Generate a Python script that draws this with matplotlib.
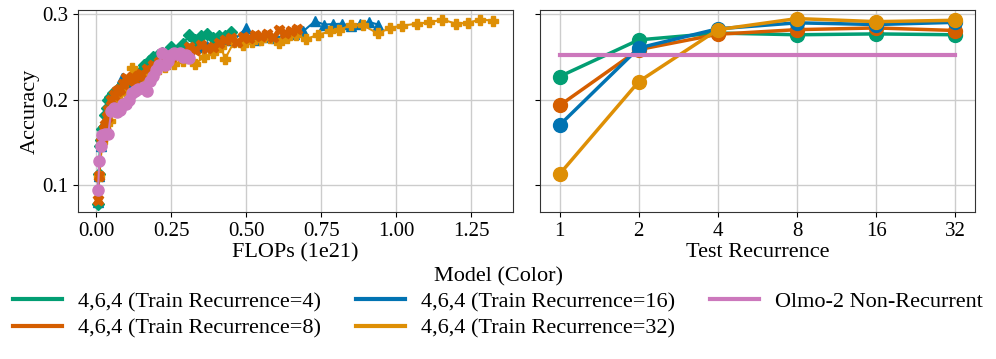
import matplotlib
matplotlib.use("Agg")
import matplotlib.pyplot as plt

plt.rcParams['font.family'] = ['Liberation Serif', 'DejaVu Serif']
plt.rcParams['font.size'] = 16
plt.rcParams['xtick.labelsize'] = 15
plt.rcParams['ytick.labelsize'] = 15

# colours (seaborn colorblind)
c4, c8, c16, c32, c_olmo = '#029e73', '#d55e00', '#0173b2', '#de8f05', '#cc78bc'

labels = ['4,6,4 (Train Recurrence=4)', '4,6,4 (Train Recurrence=8)',
          '4,6,4 (Train Recurrence=16)', '4,6,4 (Train Recurrence=32)',
          'Olmo-2 Non-Recurrent']

# left panel: accuracy vs FLOPs (1e21)
flops_r4 = [0.005, 0.008, 0.012, 0.016, 0.02, 0.025, 0.03, 0.035, 0.04, 0.047, 0.055, 0.065, 0.075,
            0.085, 0.1, 0.115, 0.13, 0.145, 0.16, 0.175, 0.19, 0.205, 0.22, 0.25, 0.27, 0.29, 0.31,
            0.33, 0.35, 0.37, 0.39, 0.41, 0.43, 0.45]
acc_r4 = [0.077, 0.112, 0.145, 0.152, 0.165, 0.168, 0.182, 0.19, 0.2, 0.203, 0.208, 0.21, 0.213,
          0.217, 0.22, 0.225, 0.228, 0.232, 0.24, 0.245, 0.25, 0.252, 0.255, 0.262, 0.258, 0.265, 0.276,
          0.27, 0.275, 0.277, 0.272, 0.274, 0.275, 0.279]

flops_r16 = [0.005, 0.01, 0.015, 0.02, 0.03, 0.04, 0.05, 0.06, 0.075, 0.085, 0.1, 0.12, 0.14, 0.16,
             0.18, 0.2, 0.22, 0.25, 0.28, 0.31, 0.34, 0.37, 0.4, 0.43, 0.46, 0.5, 0.53, 0.56, 0.6,
             0.63, 0.66, 0.69, 0.73, 0.76, 0.79, 0.82, 0.85, 0.88, 0.91, 0.94]
acc_r16 = [0.08, 0.11, 0.145, 0.16, 0.175, 0.19, 0.2, 0.205, 0.212, 0.225, 0.218, 0.222, 0.228, 0.236,
           0.242, 0.246, 0.25, 0.252, 0.255, 0.258, 0.262, 0.263, 0.266, 0.27, 0.27, 0.284, 0.27, 0.273,
           0.272, 0.276, 0.277, 0.28, 0.292, 0.288, 0.2885, 0.289, 0.286, 0.289, 0.291, 0.288]

flops_r8 = [0.005, 0.01, 0.015, 0.02, 0.025, 0.03, 0.035, 0.04, 0.05, 0.06, 0.07, 0.08, 0.09, 0.1,
            0.11, 0.12, 0.13, 0.14, 0.15, 0.17, 0.19, 0.21, 0.23, 0.25, 0.27, 0.29, 0.31, 0.33, 0.35,
            0.37, 0.39, 0.41, 0.43, 0.45, 0.47, 0.49, 0.51, 0.53, 0.55, 0.57, 0.59, 0.61, 0.63, 0.65, 0.67]
acc_r8 = [0.082, 0.11, 0.15, 0.155, 0.165, 0.17, 0.18, 0.188, 0.2, 0.205, 0.21, 0.212, 0.218, 0.225,
          0.222, 0.226, 0.222, 0.228, 0.23, 0.236, 0.24, 0.244, 0.248, 0.25, 0.254, 0.255, 0.262, 0.258,
          0.264, 0.26, 0.262, 0.266, 0.27, 0.272, 0.268, 0.273, 0.272, 0.276, 0.274, 0.277, 0.273, 0.282,
          0.278, 0.28, 0.283]

flops_r32 = [0.01, 0.02, 0.03, 0.045, 0.06, 0.08, 0.1, 0.12, 0.14, 0.17, 0.2, 0.23, 0.26, 0.29, 0.33,
             0.36, 0.39, 0.415, 0.43, 0.46, 0.49, 0.52, 0.55, 0.58, 0.61, 0.635, 0.665, 0.70, 0.74, 0.78,
             0.81, 0.85, 0.89, 0.94, 0.98, 1.02, 1.07, 1.11, 1.155, 1.2, 1.24, 1.28, 1.325]
acc_r32 = [0.11, 0.15, 0.165, 0.175, 0.19, 0.2, 0.21, 0.237, 0.215, 0.225, 0.232, 0.238, 0.242, 0.245,
           0.242, 0.25, 0.255, 0.262, 0.248, 0.268, 0.264, 0.268, 0.27, 0.272, 0.266, 0.272, 0.276, 0.271,
           0.276, 0.28, 0.282, 0.287, 0.287, 0.2775, 0.284, 0.2867, 0.289, 0.2906, 0.2938, 0.289, 0.290,
           0.2938, 0.2926]

flops_olmo = [0.006, 0.01, 0.015, 0.02, 0.03, 0.04, 0.05, 0.06, 0.07, 0.08, 0.09, 0.1, 0.11, 0.12,
              0.13, 0.14, 0.16, 0.17, 0.18, 0.19, 0.2, 0.21, 0.22, 0.23, 0.24, 0.25, 0.26, 0.27, 0.28,
              0.29, 0.3, 0.31]
acc_olmo = [0.094, 0.128, 0.145, 0.158, 0.16, 0.16, 0.186, 0.19, 0.185, 0.188, 0.195, 0.195, 0.2, 0.208,
            0.21, 0.212, 0.215, 0.21, 0.222, 0.228, 0.235, 0.24, 0.255, 0.24, 0.245, 0.252, 0.255, 0.253,
            0.255, 0.25, 0.252, 0.249]

# right panel: accuracy vs test recurrence
test_rec = [1, 2, 4, 8, 16, 32]
test_acc_r4 = [0.227, 0.270, 0.278, 0.276, 0.277, 0.276]
test_acc_r8 = [0.193, 0.2586, 0.2766, 0.282, 0.284, 0.281]
test_acc_r16 = [0.170, 0.2605, 0.283, 0.290, 0.288, 0.2906]
test_acc_r32 = [0.1125, 0.221, 0.282, 0.295, 0.2914, 0.293]
olmo_baseline = 0.252

fig = plt.figure(figsize=(9.96, 3.59), dpi=100)
ax1 = fig.add_axes([0.0783, 0.4095, 0.437, 0.5625])
ax2 = fig.add_axes([0.542, 0.4095, 0.437, 0.5625], sharey=ax1)

ax1.plot(flops_r16, acc_r16, color=c16, marker='^', ms=7, lw=1.5)
ax1.plot(flops_r4, acc_r4, color=c4, marker='D', ms=6.5, lw=1.5)
ax1.plot(flops_r32, acc_r32, color=c32, marker='P', ms=7.5, lw=1.5)
ax1.plot(flops_r8, acc_r8, color=c8, marker='X', ms=7.5, lw=1.5)
ax1.plot(flops_olmo, acc_olmo, color=c_olmo, marker='o', ms=8, lw=1.5)
ax1.set_xlabel('FLOPs (1e21)', labelpad=2)
ax1.set_ylabel('Accuracy', labelpad=2)
ax1.set_yticks([0.1, 0.2, 0.3])
ax1.set_ylim(0.068, 0.305)
ax1.grid(True, color='#cccccc', lw=1)

lines = []
for vals, col in [(test_acc_r4, c4), (test_acc_r8, c8), (test_acc_r16, c16), (test_acc_r32, c32)]:
    ln, = ax2.plot(test_rec, vals, color=col, marker='o', ms=10, lw=2.5)
    lines.append(ln)
ln, = ax2.plot([test_rec[0], test_rec[-1]], [olmo_baseline, olmo_baseline], color=c_olmo, lw=3)
lines.append(ln)
ax2.set_xscale('log', base=2)
ax2.set_xticks(test_rec)
ax2.set_xticklabels([str(t) for t in test_rec])
ax2.tick_params(axis='y', labelleft=False)
ax2.set_xlabel('Test Recurrence', labelpad=2)
ax2.grid(True, color='#cccccc', lw=1)

for ax in (ax1, ax2):
    for s in ax.spines.values():
        s.set_color('#333333')

handles = [plt.Line2D([], [], color=l.get_color(), lw=3) for l in lines]
fig.legend(handles, labels, title='Model (Color)', loc='upper center', bbox_to_anchor=(0.5, 0.3),
           ncol=3, frameon=False, handlelength=2.2, columnspacing=1.6, fontsize=16, title_fontsize=16,
           labelspacing=0.25, handletextpad=0.7, borderpad=0.2)

fig.savefig('out.png', dpi=100)
